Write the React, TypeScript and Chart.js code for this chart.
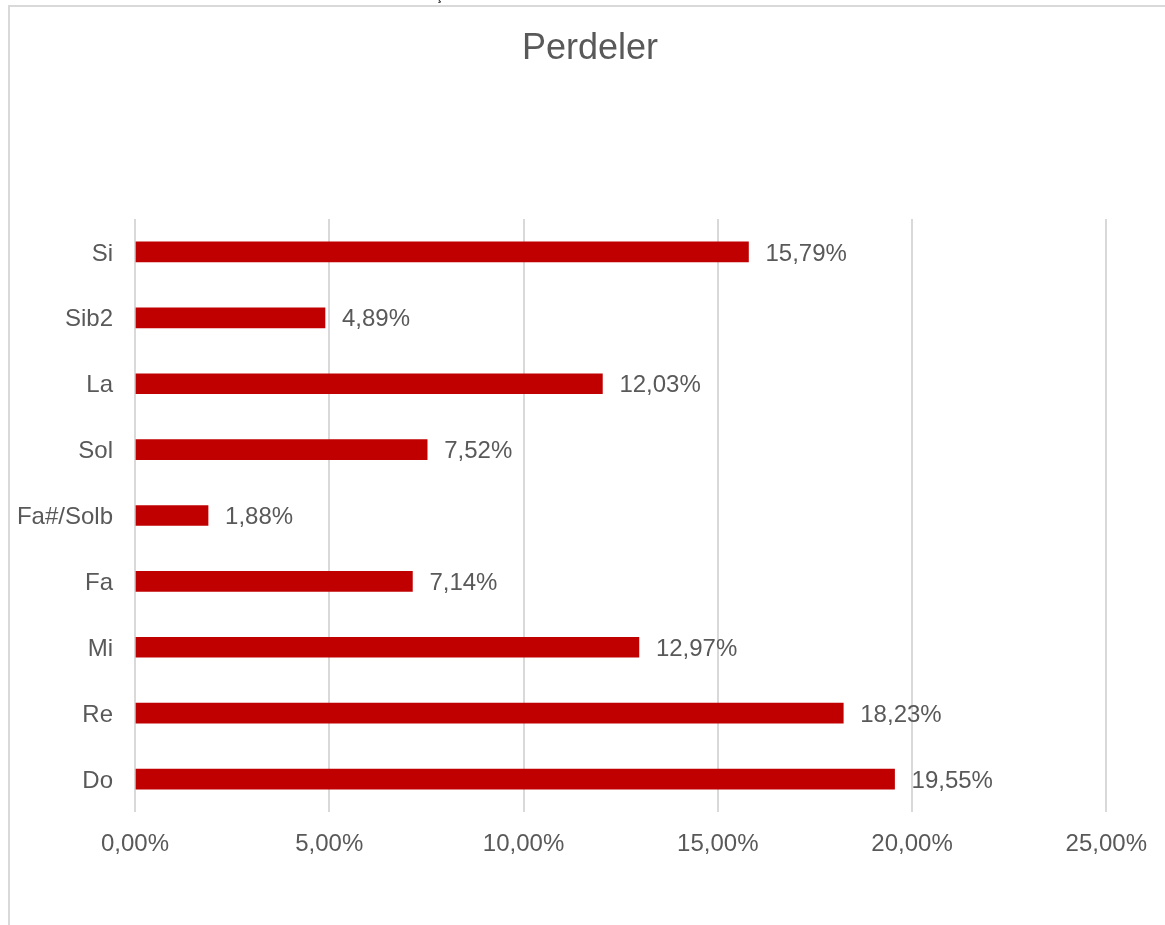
import React, { useEffect, useRef } from "react";
import { Chart, registerables } from "chart.js";

Chart.register(...registerables);

const categories = ["Si", "Sib2", "La", "Sol", "Fa#/Solb", "Fa", "Mi", "Re", "Do"];
const values = [15.79, 4.89, 12.03, 7.52, 1.88, 7.14, 12.97, 18.23, 19.55];
const titleText = "Perdeler";

const FONT = "'Liberation Sans', Arial, sans-serif";
const TEXT = "#595959";
const fmt = (v: number) => v.toFixed(2).replace(".", ",") + "%";

const dataLabels = {
  id: "dataLabels",
  afterDatasetsDraw(chart: any) {
    const ctx = chart.ctx;
    const meta = chart.getDatasetMeta(0);
    ctx.save();
    ctx.font = `24px ${FONT}`;
    ctx.fillStyle = TEXT;
    ctx.textAlign = "left";
    ctx.textBaseline = "middle";
    meta.data.forEach((bar: any, i: number) => {
      ctx.fillText(fmt(values[i]), bar.x + 17, bar.y + 2);
    });
    ctx.restore();
  },
};

const customTitle = {
  id: "customTitle",
  afterDraw(chart: any) {
    const ctx = chart.ctx;
    ctx.save();
    ctx.font = `36px ${FONT}`;
    ctx.fillStyle = TEXT;
    ctx.textAlign = "center";
    ctx.textBaseline = "alphabetic";
    ctx.fillText(titleText, 590, 59);
    ctx.restore();
  },
};

export default function App() {
  const ref = useRef<HTMLCanvasElement | null>(null);
  useEffect(() => {
    if (!ref.current) return;
    const chart = new Chart(ref.current, {
      type: "bar",
      data: {
        labels: categories,
        datasets: [
          {
            data: values,
            backgroundColor: "#C00000",
            barThickness: 20,
          },
        ],
      },
      options: {
        indexAxis: "y",
        animation: false,
        responsive: false,
        maintainAspectRatio: false,
        layout: { padding: { left: 0, right: 58, top: 219, bottom: 53 } },
        plugins: {
          legend: { display: false },
          tooltip: { enabled: false },
          title: { display: false },
        },
        scales: {
          x: {
            min: 0,
            max: 25,
            ticks: {
              stepSize: 5,
              callback: (v: any) => fmt(Number(v)),
              color: TEXT,
              font: { family: FONT, size: 24 },
              padding: 18,
              maxRotation: 0,
            },
            grid: { color: "#d9d9d9", lineWidth: 2, drawTicks: false },
            border: { display: false },
            afterFit: (s: any) => {
              s.height = 60;
            },
          },
          y: {
            ticks: {
              color: TEXT,
              font: { family: FONT, size: 24 },
              padding: 22,
              labelOffset: 2,
            },
            grid: { display: false, drawTicks: false },
            border: { display: false },
            afterFit: (s: any) => {
              s.width = 135;
            },
          },
        },
      },
      plugins: [dataLabels, customTitle],
    });
    return () => chart.destroy();
  }, []);

  return (
    <div>
      <div
        style={{
          position: "fixed",
          left: 8,
          top: 5,
          width: 1300,
          height: 1100,
          borderLeft: "2px solid #d9d9d9",
          borderTop: "2px solid #d9d9d9",
          boxSizing: "border-box",
        }}
      />
      <canvas
        ref={ref}
        width={1165}
        height={925}
        style={{ position: "fixed", left: 0, top: 0, width: 1165, height: 925 }}
      />
      <div
        style={{
          position: "fixed",
          left: 436,
          top: -12,
          fontFamily: FONT,
          fontSize: 14,
          lineHeight: "14px",
          color: "#000",
        }}
      >
        ş
      </div>
    </div>
  );
}
